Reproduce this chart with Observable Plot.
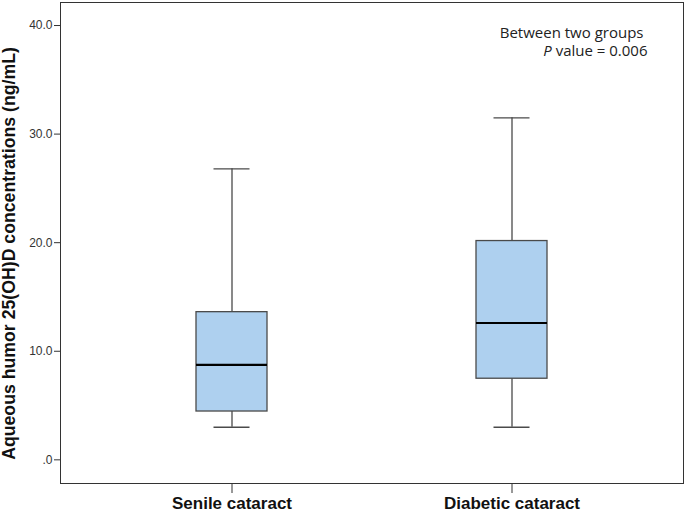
<!DOCTYPE html>
<html>
<head>
<meta charset="utf-8">
<script src="https://cdn.jsdelivr.net/npm/d3@7"></script>
<script src="https://cdn.jsdelivr.net/npm/@observablehq/plot@0.6"></script>
<style>
  body { margin: 0; background: #fff; }
  #chart svg { display: block; }
</style>
</head>
<body>
<div id="chart"></div>
<script>
const groups = ["Senile cataract", "Diabetic cataract"];
const whiskerLow = [3.0, 3.0];
const q1 = [4.45, 7.47];
const median = [8.75, 12.6];
const q3 = [13.6, 20.15];
const whiskerHigh = [26.8, 31.5];
const yTicks = [0, 10, 20, 30, 40];
const yLabel = ["Aqueous humor 25(OH)D concentrations (ng/mL)"];
const note1 = ["Between two groups"];
const notePParts = ["P", " value = 0.006"];

const data = groups.map((g, i) => ({
  group: g, lo: whiskerLow[i], q1: q1[i], med: median[i], q3: q3[i], hi: whiskerHigh[i]
}));
const note2 = [notePParts.join("")];

const stroke = "#4a4a4a";
const chart = Plot.plot({
  width: 685,
  height: 513,
  marginLeft: 60,
  marginRight: 2,
  marginTop: 2,
  marginBottom: 30,
  style: { fontFamily: "Liberation Sans, Arial, sans-serif", color: "#222" },
  x: { type: "band", domain: groups, paddingInner: 0.748, paddingOuter: 0.485 },
  y: { domain: [-2.18, 42.12] },
  marks: [
    Plot.frame({ stroke: "#333", strokeWidth: 1 }),
    Plot.axisY({ ticks: yTicks, tickFormat: d => d === 0 ? ".0" : d.toFixed(1), tickSize: 6, tickPadding: 2, fontSize: 12, label: null, stroke: "#333", fill: "#333" }),
    Plot.axisX({ tickSize: 10, tickPadding: 3, fontSize: 17, fontWeight: "bold", label: null, stroke: "#333", fill: "#111" }),
    Plot.ruleX(data, { x: "group", y1: "lo", y2: "q1", stroke, strokeWidth: 1.3 }),
    Plot.ruleX(data, { x: "group", y1: "q3", y2: "hi", stroke, strokeWidth: 1.3 }),
    Plot.tickY(data, { x: "group", y: "lo", stroke, strokeWidth: 1.3, insetLeft: 17.5, insetRight: 17.5 }),
    Plot.tickY(data, { x: "group", y: "hi", stroke, strokeWidth: 1.3, insetLeft: 17.5, insetRight: 17.5 }),
    Plot.barY(data, { x: "group", y1: "q1", y2: "q3", fill: "#aed0ef", stroke, strokeWidth: 1.3 }),
    Plot.tickY(data, { x: "group", y: "med", stroke: "#000", strokeWidth: 2.2 }),
    Plot.text(yLabel, { text: d => d, frameAnchor: "left", textAnchor: "middle", rotate: -90, dx: -51, dy: 10.5, fontSize: 17.7, fontWeight: "bold", fill: "#111" }),
    Plot.text(note1, { text: d => d, frameAnchor: "top-right", textAnchor: "end", dx: -40, dy: 25, fontSize: 15, fill: "#222", fontFamily: "Open Sans, sans-serif" }),
    Plot.text(note2, { text: d => d, frameAnchor: "top-right", textAnchor: "end", dx: -36, dy: 43, fontSize: 15, fill: "#222", fontFamily: "Open Sans, sans-serif", className: "pnote" })
  ]
});
// italicize the leading "P" of the P-value note
d3.select(chart).selectAll(".pnote text").each(function () {
  const t = d3.select(this);
  t.text(null);
  t.append("tspan").attr("font-style", "italic").text(notePParts[0]);
  t.append("tspan").text(notePParts[1]);
});
document.getElementById("chart").appendChild(chart);
</script>
</body>
</html>
